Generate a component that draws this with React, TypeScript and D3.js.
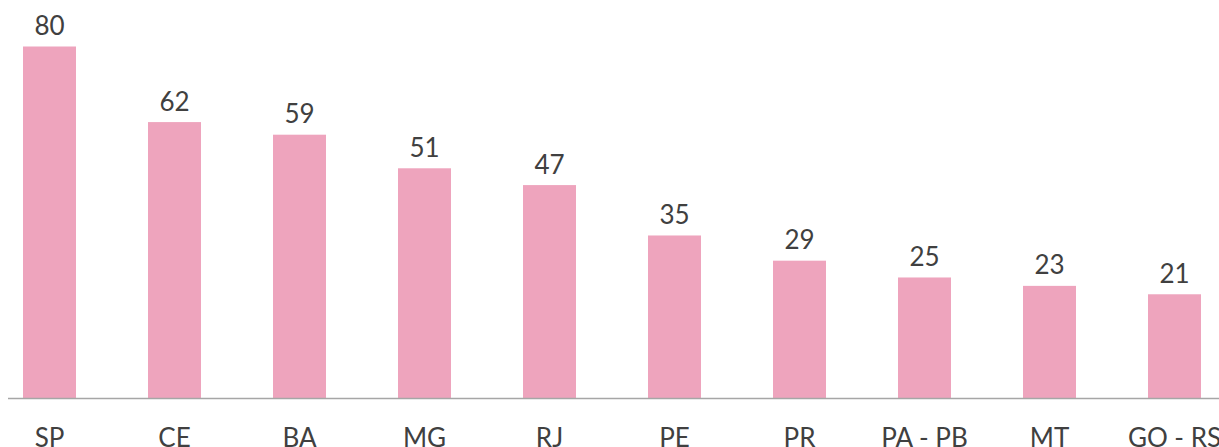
import React from "react";
import * as d3 from "d3";

const categories = ["SP", "CE", "BA", "MG", "RJ", "PE", "PR", "PA - PB", "MT", "GO - RS"];
const values = [80, 62, 59, 51, 47, 35, 29, 25, 23, 21];

export default function App() {
  const W = 1219, H = 447;
  const p = 0.576;
  const x = d3.scaleBand<string>().domain(categories).range([-13, 1237]).paddingInner(p).paddingOuter(p / 2);
  const y = d3.scaleLinear().domain([-3.7, 80]).range([398, 46.5]);
  const font = "Lato, 'Open Sans', sans-serif";
  return (
    <svg width={W} height={H} style={{ position: "absolute", left: 0, top: 0 }}>
      {categories.map((c, i) => (
        <g key={c}>
          <rect x={x(c)} y={y(values[i])} width={x.bandwidth()} height={398 - y(values[i])} fill="#EEA4BD" />
          <text x={(x(c) as number) + x.bandwidth() / 2} y={y(values[i]) - 11.5} textAnchor="middle" fontFamily={font} fontSize={26} fill="#404040">{values[i]}</text>
          <text x={(x(c) as number) + x.bandwidth() / 2} y={447} textAnchor="middle" fontFamily={font} fontSize={26} fill="#404040">{c}</text>
        </g>
      ))}
      <line x1={8} x2={W} y1={398.5} y2={398.5} stroke="#A6A6A6" strokeWidth={1.5} />
    </svg>
  );
}
